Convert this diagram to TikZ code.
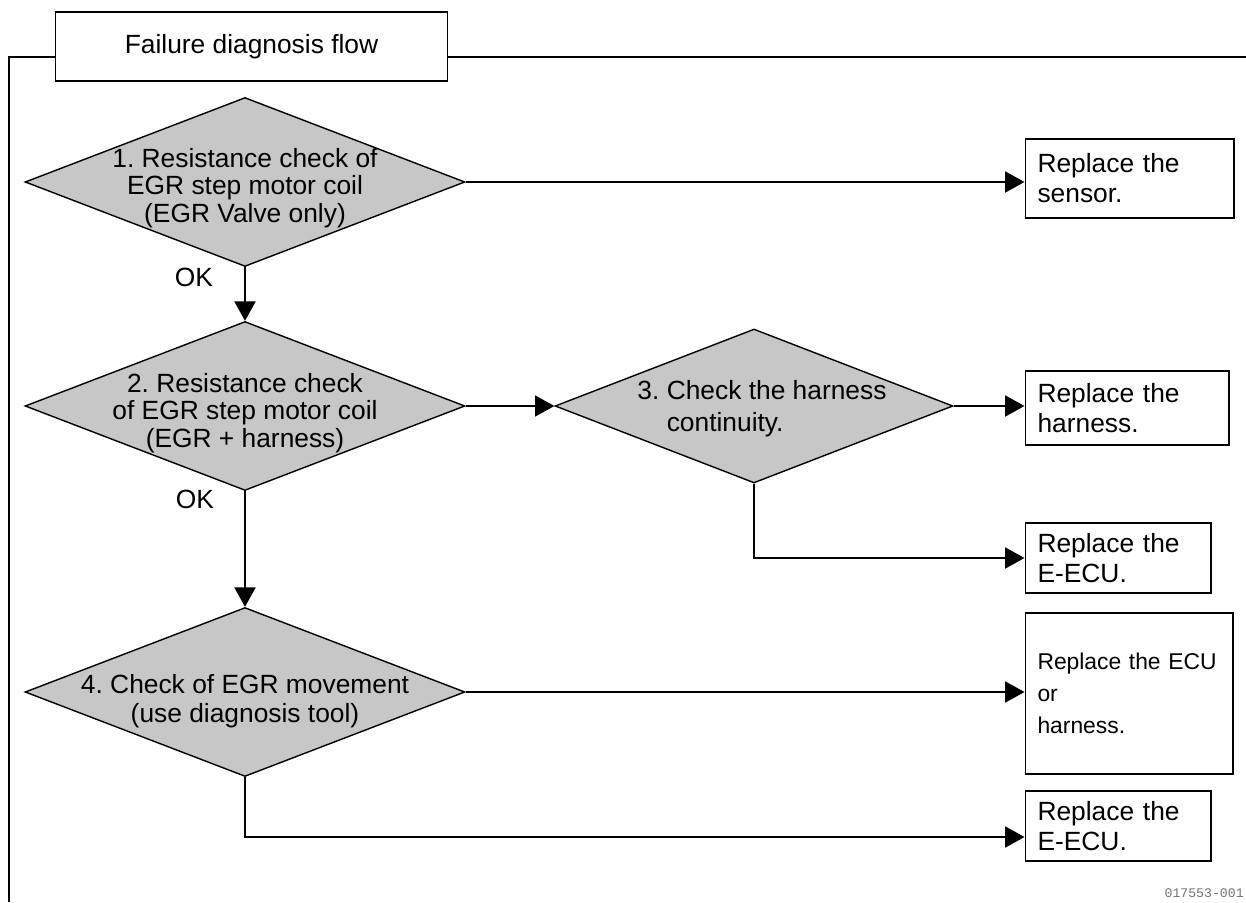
\documentclass[tikz,border=0pt]{standalone}
\usepackage{fontspec}
\setmainfont{Liberation Sans}
\setmonofont{Liberation Mono}
\usetikzlibrary{arrows.meta,positioning,shapes.geometric}
\frenchspacing

\begin{document}
\begin{tikzpicture}[x=0.02cm,y=-0.02cm,>={Triangle[length=11pt,width=12pt]},font=\fontsize{15}{15.6}\selectfont]
\tikzstyle{dia}=[draw,diamond,fill=black!22,line width=0.8pt,inner sep=0pt,minimum width=8.8cm,minimum height=3.38cm]
\tikzstyle{dt}=[align=center,inner sep=0pt]
\tikzstyle{res}=[draw,line width=0.6pt,align=left,inner xsep=0.25cm,inner ysep=0pt,font=\fontsize{15}{17}\selectfont]
\tikzstyle{ln}=[line width=0.8pt]
\useasboundingbox (0,0) rectangle (1246,902);
% outer frame and heading
\coordinate (fbl) at (9,902); \coordinate (ftl) at (9,57); \coordinate (ftr) at (1246,57);
\node[draw,line width=0.6pt,fill=white,minimum width=7.86cm,minimum height=1.38cm] (title) at (251.5,46.5) {Failure diagnosis flow};
\draw[line width=0.6pt] (fbl) -- (ftl) -- (ftl -| title.west);
\draw[line width=0.6pt] (ftl -| title.east) -- (ftr);
% checks
\node[dia] (d1) at (245,182) {};
\node[dt] (d1t) at (245,188) {1. Resistance check of\\EGR step motor coil\\(EGR Valve only)};
\node[dia] (d2) at (245,406) {};
\node[dt] (d2t) at (245,413) {2. Resistance check\\of EGR step motor coil\\(EGR + harness)};
\node[dia,minimum width=7.96cm,minimum height=3.08cm] (d3) at (754,406) {};
\node[dt,align=left,font=\fontsize{15}{18.1}\selectfont] (d3t) at (762,409) {3. Check the harness\\\phantom{3. }continuity.};
\node[dia] (d4) at (245,692) {};
\node[dt,font=\fontsize{15}{16.4}\selectfont] (d4t) at (245,701) {4. Check of EGR movement\\(use diagnosis tool)};
\node (ok1) at (194,277) {OK};
\node (ok2) at (195,499) {OK};
% results
\node[res,text width=3.68cm,minimum height=1.58cm] (b1) at (1129.5,178.5) {Replace the\\sensor.};
\node[res,text width=3.58cm,minimum height=1.48cm] (b2) at (1127,408) {Replace the\\harness.};
\node[res,text width=3.22cm,minimum height=1.4cm] (b3) at (1118,558) {Replace the\\E-ECU.};
\node[res,text width=3.66cm,minimum height=3.22cm,font=\fontsize{13}{18.1}\selectfont] (b4) at (1129,693.5) {Replace the ECU\\or\\harness.};
\node[res,text width=3.22cm,minimum height=1.4cm] (b5) at (1118,826) {Replace the\\E-ECU.};
% connectors
\draw[ln,->] (d1.east) -- (d1.east -| b1.west);
\draw[ln,->] (d1.south) -- (d2.north);
\draw[ln,->] (d2.east) -- (d3.west);
\draw[ln,->] (d3.east) -- (d3.east -| b2.west);
\draw[ln,->] (d3.south) |- (b3.west);
\draw[ln,->] (d2.south) -- (d4.north);
\draw[ln,->] (d4.east) -- (d4.east -| b4.west);
\draw[ln,->] (d4.south) |- ([yshift=-0.22cm]b5.west);
\node[anchor=base east,inner sep=0pt,text=black!55,font=\ttfamily\fontsize{7.5}{7.5}\selectfont] (code) at (1244,897) {017553-001};
\end{tikzpicture}
\end{document}
